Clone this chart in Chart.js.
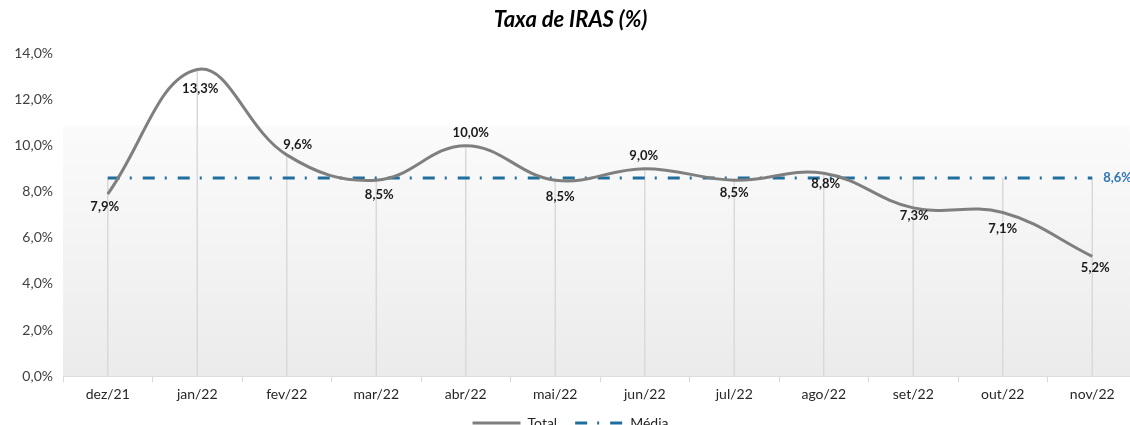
<!DOCTYPE html>
<html>
<head>
<meta charset="utf-8">
<script src="https://cdn.jsdelivr.net/npm/chart.js@4"></script>
<style>
  html, body { margin: 0; padding: 0; background: #fff; overflow: hidden; }
  #wrap { position: relative; width: 1140px; height: 454px; }
</style>
</head>
<body>
<div id="wrap"><canvas id="chart"></canvas></div>
<script>
const months = ['dez/21', 'jan/22', 'fev/22', 'mar/22', 'abr/22', 'mai/22', 'jun/22', 'jul/22', 'ago/22', 'set/22', 'out/22', 'nov/22'];
const totalValues = [7.9, 13.3, 9.6, 8.5, 10.0, 8.5, 9.0, 8.5, 8.8, 7.3, 7.1, 5.2];
const mediaValues = [8.6, 8.6, 8.6, 8.6, 8.6, 8.6, 8.6, 8.6, 8.6, 8.6, 8.6, 8.6];

// label nudges (px) for the Total labels
const labelDx = [-3, 3, 11, 3, 5, 5, -1, 0, 2, 1, 0, 3];
const labelDy = [13, 19, -10, 15, -13, 17, -13, 13, 11, 8, 16, 12];

const FONT = 'Lato, "Liberation Sans", sans-serif';
const GRAY = '#7f7f7f';
const BLUE = '#1f6e9e';

const fmt = v => v.toFixed(1).replace('.', ',') + '%';

const plotDecor = {
  id: 'plotDecor',
  afterLayout(chart) {
    // pull the legend a little closer to the axis labels
    if (chart.legend) {
      chart.legend.top -= 9;
      chart.legend.bottom -= 9;
    }
  },
  beforeDatasetsDraw(chart) {
    const { ctx, chartArea: a, scales } = chart;
    // soft grey band behind the plot
    const top = a.top + (a.bottom - a.top) * 0.223;
    const g = ctx.createLinearGradient(0, top, 0, a.bottom);
    g.addColorStop(0, '#fbfbfb');
    g.addColorStop(1, '#ebebeb');
    ctx.save();
    ctx.fillStyle = g;
    ctx.fillRect(a.left, top, a.right - a.left, a.bottom - top);

    // drop lines from the highest point down to the axis
    ctx.strokeStyle = '#d9d9d9';
    ctx.lineWidth = 1.5;
    months.forEach((m, i) => {
      const x = scales.x.getPixelForValue(i);
      const y = scales.y.getPixelForValue(Math.max(totalValues[i], mediaValues[i]));
      ctx.beginPath();
      ctx.moveTo(x, y);
      ctx.lineTo(x, a.bottom);
      ctx.stroke();
    });
    ctx.restore();
  },
  afterDatasetsDraw(chart) {
    const { ctx } = chart;
    ctx.save();
    ctx.textAlign = 'center';
    ctx.textBaseline = 'middle';
    ctx.font = 'bold 13px ' + FONT;
    ctx.fillStyle = '#1a1a1a';
    chart.getDatasetMeta(0).data.forEach((pt, i) => {
      ctx.fillText(fmt(totalValues[i]), pt.x + labelDx[i], pt.y + labelDy[i]);
    });
    const last = chart.getDatasetMeta(1).data[mediaValues.length - 1];
    ctx.textAlign = 'left';
    ctx.fillStyle = '#2e75b6';
    ctx.fillText(fmt(mediaValues[mediaValues.length - 1]), last.x + 11, last.y);
    ctx.restore();
  }
};

new Chart(document.getElementById('chart'), {
  type: 'line',
  data: {
    labels: months,
    datasets: [
      {
        label: 'Total',
        data: totalValues,
        borderColor: GRAY,
        backgroundColor: GRAY,
        borderWidth: 3,
        tension: 0.4,
        pointRadius: 0,
        fill: false
      },
      {
        label: 'Média',
        data: mediaValues,
        borderColor: BLUE,
        backgroundColor: BLUE,
        borderWidth: 3,
        borderDash: [12, 10, 2, 11],
        pointRadius: 0,
        fill: false
      }
    ]
  },
  options: {
    responsive: true,
    maintainAspectRatio: false,
    animation: false,
    layout: { padding: { left: 4, right: 3, top: 0, bottom: 5 } },
    plugins: {
      title: {
        display: true,
        text: 'Taxa de IRAS (%)',
        color: '#000',
        font: { family: FONT, size: 22, weight: 'bold', style: 'italic' },
        padding: { top: 7, bottom: 20 }
      },
      legend: {
        position: 'bottom',
        labels: {
          usePointStyle: true,
          pointStyle: 'line',
          pointStyleWidth: 48,
          boxHeight: 8,
          padding: 18,
          color: '#262626',
          font: { family: FONT, size: 14 },
          generateLabels(chart) {
            const items = Chart.defaults.plugins.legend.labels.generateLabels(chart);
            items.forEach(it => {
              it.lineDash = chart.data.datasets[it.datasetIndex].borderDash || [];
            });
            return items;
          }
        }
      },
      tooltip: { enabled: false }
    },
    scales: {
      x: {
        offset: true,
        grid: { offset: true, drawOnChartArea: false, tickLength: 6, color: '#d9d9d9' },
        border: { color: '#d9d9d9' },
        ticks: { color: '#262626', padding: 4, font: { family: FONT, size: 14 } }
      },
      y: {
        min: 0,
        max: 14,
        grid: { display: false },
        border: { display: false },
        ticks: {
          stepSize: 2,
          color: '#404040',
          padding: 2,
          font: { family: FONT, size: 14 },
          callback: v => fmt(v)
        },
        afterFit(scale) { scale.width = 59; }
      }
    }
  },
  plugins: [plotDecor]
});
</script>
</body>
</html>
